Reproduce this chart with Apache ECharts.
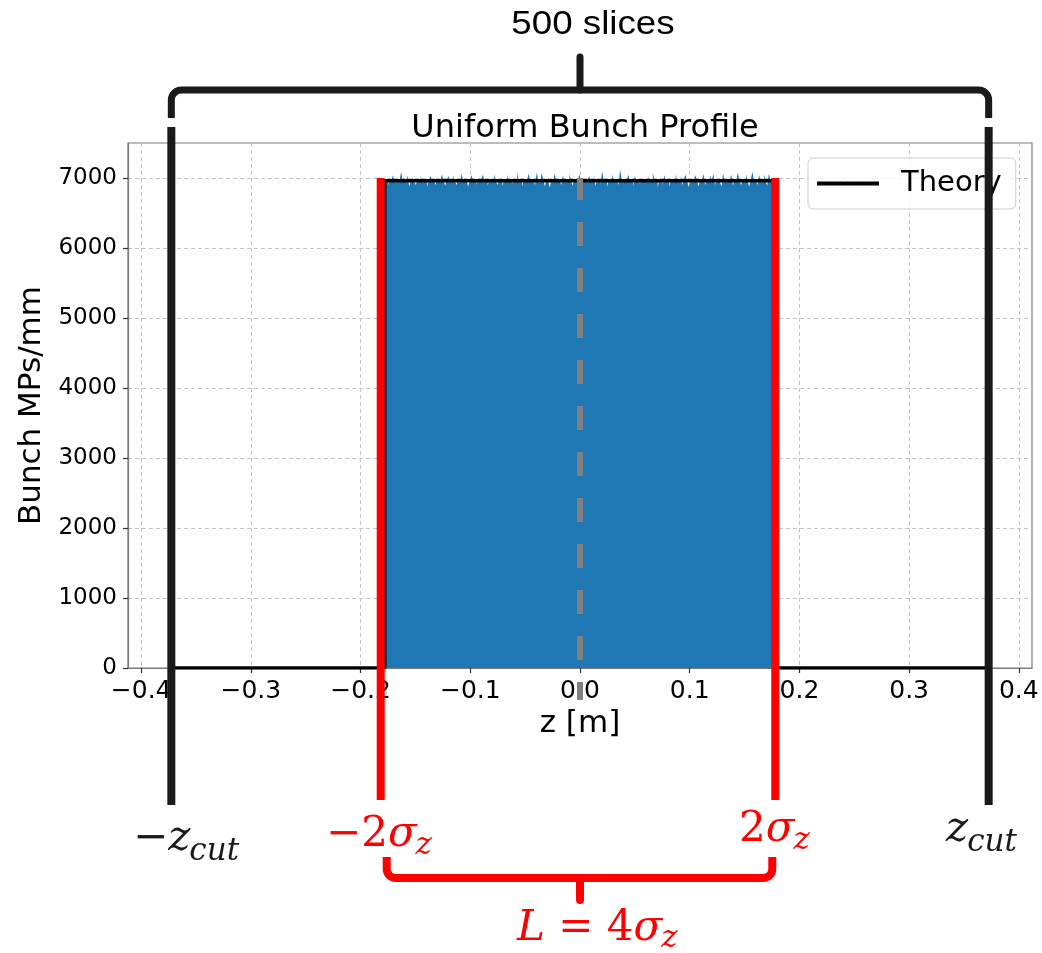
<!DOCTYPE html>
<html><head><meta charset="utf-8">
<script src="https://cdn.jsdelivr.net/npm/echarts@6/dist/echarts.min.js"></script>
<style>html,body{margin:0;padding:0;background:#fff}#c{width:1042px;height:953px}</style>
</head><body><div id="c"></div>
<script>
// ---- data ----
const xTicks = [-0.4, -0.3, -0.2, -0.1, 0.0, 0.1, 0.2, 0.3, 0.4];
const yTicks = [0, 1000, 2000, 3000, 4000, 5000, 6000, 7000];
const zCut = 0.3725;          // bunch cut [m]
const nSlices = 500;          // number of slices between -zCut and zCut
const twoSigma = 0.178;       // 2 sigma_z [m]
const theoryLevel = 6960;     // MPs/mm theory
const histStart = -0.178;     // first non-empty slice edge
const counts = [
6960,6975,6890,6990,6955,7040,6965,6930,6985,6950,
7090,6960,6945,6970,7030,6880,6965,7000,6950,6900,
6975,6960,7040,6945,6980,6955,6870,6970,7030,6960,
7000,6900,6965,6985,6950,7050,6960,6890,6975,7030,
6955,6970,7045,6945,6900,6985,6930,7060,6965,6950,
6980,6880,6960,7040,6975,6955,6900,6990,6965,6945,
7050,6960,6975,6890,6985,6950,6970,7055,6955,6900,
6990,6965,6880,6980,6960,7045,6945,6970,6910,6985,
6960,7090,6950,6975,6870,6990,6965,6945,7060,6970,
6955,6985,6900,7080,6960,6930,7070,6975,6880,6995,
6965,6860,6985,6955,7060,6945,6970,6990,6900,7040,
6935,6975,6950,7060,6965,6890,6985,6960,6945,7050,
6970,6900,6990,6965,6940,7030,6955,6970,7040,6885,
6985,6960,6900,7100,6965,6950,6870,6975,6990,7060,
6955,6945,6985,6900,7120,6970,6935,6990,6960,7050,
6950,6975,6880,7030,6965,6980,6910,6985,6960,6950,
6970,7030,6945,6960,7080,6975,6950,6860,6985,6965,
6890,7040,6960,6975,6870,6985,6950,6970,7060,6945,
6960,7030,6900,6975,7050,6955,6870,6985,6965,6950,
7040,6970,6880,6990,6960,7060,6900,6975,6955,7040,
6960,7060,6900,6970,6990,6950,6880,7070,6930,6985,
6960,6975,7050,6890,6990,6955,7080,6965,6900,6980,
6960,7060,6950,6880,6990,7090,6940,6970,6900,7040,
6965,6950,7050,6960,6890,7060,6970,6955,6990
];

// ---- build series ----
const binW = 2 * zCut / nSlices;
const histData = [[histStart, 0]];
counts.forEach((c, i) => histData.push([histStart + i * binW, c]));
const histEnd = histStart + counts.length * binW;
histData.push([histEnd, counts[counts.length - 1]]);
histData.push([histEnd, 0]);

const theoryData = [[-zCut, 0], [-twoSigma, 0], [-twoSigma, theoryLevel],
  [twoSigma, theoryLevel], [twoSigma, 0], [zCut, 0]];

const fmtX = v => (v < 0 ? '\u2212' : '') + Math.abs(v).toFixed(1);
const fmtY = v => String(Math.round(v));

const chart = echarts.init(document.getElementById('c'), null, {renderer: 'canvas'});
chart.setOption({
  animation: false,
  backgroundColor: '#fff',
  title: {
    text: 'Uniform Bunch Profile', left: 580, top: 108, textAlign: 'center',
    textStyle: {fontFamily: 'DejaVu Sans', fontSize: 32, fontWeight: 'normal', color: '#000'}
  },
  grid: {left: 128, right: 10, top: 143, bottom: 285, show: true,
    borderColor: '#7a7a7a', borderWidth: 1.2, backgroundColor: 'transparent'},
  legend: {
    orient: 'vertical', left: 808, top: 158,
    padding: [11, 14, 11, 9], borderColor: '#cccccc', borderWidth: 1, borderRadius: 5,
    backgroundColor: 'rgba(255,255,255,0.8)',
    itemWidth: 62, itemHeight: 4,
    textStyle: {fontFamily: 'DejaVu Sans', fontSize: 29, color: '#000', padding: [0, 0, 0, 17]},
    data: [{name: 'Theory', icon: 'rect', itemStyle: {color: '#000'}}]
  },
  xAxis: {
    type: 'value', min: -0.412, max: 0.412,
    name: 'z [m]', nameLocation: 'middle', nameGap: 40,
    nameTextStyle: {fontFamily: 'DejaVu Sans', fontSize: 31, color: '#000'},
    axisLine: {show: true, onZero: false, lineStyle: {color: '#7a7a7a', width: 1.2}},
    axisTick: {show: true, length: 5, customValues: xTicks, lineStyle: {color: '#333', width: 1.2}},
    axisLabel: {customValues: xTicks, formatter: fmtX, margin: 11,
      fontFamily: 'DejaVu Sans', fontSize: 25, color: '#000'},
    splitLine: {show: true, lineStyle: {color: '#c4c4c4', width: 1, type: [4, 3]}}
  },
  yAxis: {
    type: 'value', min: 0, max: 7500,
    name: 'Bunch MPs/mm', nameLocation: 'middle', nameGap: 79,
    nameTextStyle: {fontFamily: 'DejaVu Sans', fontSize: 31, color: '#000'},
    axisLine: {show: true, onZero: false, lineStyle: {color: '#7a7a7a', width: 1.2}},
    axisTick: {show: true, length: 5, customValues: yTicks, lineStyle: {color: '#333', width: 1.2}},
    axisLabel: {customValues: yTicks, formatter: fmtY, margin: 11,
      fontFamily: 'DejaVu Sans', fontSize: 23, color: '#000'},
    splitLine: {show: true, lineStyle: {color: '#c4c4c4', width: 1, type: [4, 3]}}
  },
  series: [
    {type: 'line', name: 'hist', data: histData, step: 'end', symbol: 'none', z: 2,
      lineStyle: {width: 0, color: '#1f77b4'}, areaStyle: {color: '#1f77b4', opacity: 1}},
    {type: 'line', name: 'Theory', data: theoryData, symbol: 'none', z: 3,
      lineStyle: {width: 3.5, color: '#000'}, itemStyle: {color: '#000'}}
  ]
});

// ---- annotations positioned through the axes ----
const px = v => chart.convertToPixel({xAxisIndex: 0}, v);
const py = v => chart.convertToPixel({yAxisIndex: 0}, v);
const xL = px(-zCut), xR = px(zCut), x0 = px(0);
const rL = px(-twoSigma) - 4, rR = px(twoSigma);
const blk = '#1a1a1a', red = '#ff0000';
const MF = 'DejaVu Serif';
const mainFs = 42, subFs = 31;

const mctx = document.createElement('canvas').getContext('2d');
function measure(parts, fs) {
  let w = 0;
  parts.forEach(p => { mctx.font = (p[1] ? 'italic ' : '') + fs + 'px "' + MF + '"'; w += mctx.measureText(p[0]).width; });
  return w;
}
function line(x1, y1, x2, y2, color, w, cap, dash, dashOff) {
  const st = {stroke: color, lineWidth: w, lineCap: cap || 'butt'};
  if (dash) { st.lineDash = dash; st.lineDashOffset = dashOff || 0; }
  return {type: 'line', z: 100, silent: true, shape: {x1, y1, x2, y2}, style: st};
}
function bracket(xa, xb, yLine, yEnd, r, color, w) {
  const pts = [[xa, yEnd]];
  const s = yEnd > yLine ? 1 : -1;
  for (let k = 0; k <= 8; k++) {
    const a = Math.PI / 2 * k / 8;
    pts.push([xa + r - r * Math.cos(a), yLine + s * (r - r * Math.sin(a))]);
  }
  for (let k = 0; k <= 8; k++) {
    const a = Math.PI / 2 * k / 8;
    pts.push([xb - r + r * Math.sin(a), yLine + s * (r - r * Math.cos(a))]);
  }
  pts.push([xb, yEnd]);
  return {type: 'polyline', z: 100, silent: true, shape: {points: pts},
    style: {stroke: color, lineWidth: w, fill: null, lineJoin: 'round', lineCap: 'butt'}};
}
// math label: parts = [[text, italic], ...], then subscript
function mathLabel(x, yBase, parts, sub, subDy, color) {
  const rich = {
    u: {fontFamily: MF, fontStyle: 'normal', fontSize: mainFs, color: color},
    i: {fontFamily: MF, fontStyle: 'italic', fontSize: mainFs, color: color}
  };
  const str = parts.map(p => '{' + (p[1] ? 'i' : 'u') + '|' + p[0] + '}').join('');
  const w = measure(parts, mainFs);
  return [
    {type: 'text', z: 101, silent: true, x: x, y: yBase - 0.3 * mainFs,
      style: {text: str, rich: rich, fill: color, fontSize: mainFs, verticalAlign: 'middle', align: 'left'}},
    {type: 'text', z: 101, silent: true, x: x + w - 1, y: yBase + subDy - 0.3 * subFs,
      style: {text: sub, fontFamily: MF, fontStyle: 'italic', fontSize: subFs, fill: color,
        verticalAlign: 'middle', align: 'left'}}
  ];
}

const yB = 90, yBE = 118;
const yR = 878, yRE = 857;
const ra = rL + 6, rb = rR - 3;

const graphics = [
  // gray dashed centre line
  line(x0, py(7000), x0, py(0) + 32, '#808080', 6, 'butt', [24, 22], 2),
  // black cut lines
  line(xL, 127, xL, 805, blk, 8),
  line(xR, 127, xR, 805, blk, 8),
  bracket(xL, xR, yB, yBE, 10, blk, 7),
  line(x0, yB, x0, 57, blk, 7, 'round'),
  // red 2 sigma lines
  line(rL, py(7000), rL, 800, red, 8),
  line(rR, py(7000), rR, 800, red, 8),
  bracket(ra, rb, yR, yRE, 9, red, 8),
  line(x0, yR, x0, 900, red, 8, 'round'),
  // labels
  {type: 'text', z: 101, silent: true, x: 593, y: 25, scaleX: 1.08,
    style: {text: '500 slices', fontFamily: 'Liberation Sans', fontSize: 34, fill: '#000', align: 'center', verticalAlign: 'middle'}},
  ...mathLabel(133, 852, [['\u2212', false], ['z', true]], 'cut', 9, blk),
  ...mathLabel(946, 843, [['z', true]], 'cut', 9, blk),
  ...mathLabel(326, 848, [['\u22122', false], ['\u03c3', true]], 'z', 7, red),
  ...mathLabel(739, 843, [['2', false], ['\u03c3', true]], 'z', 7, red),
  ...mathLabel(517, 942, [['L', true], [' = 4', false], ['\u03c3', true]], 'z', 6, red)
];
chart.setOption({graphic: graphics});
</script>
</body></html>
